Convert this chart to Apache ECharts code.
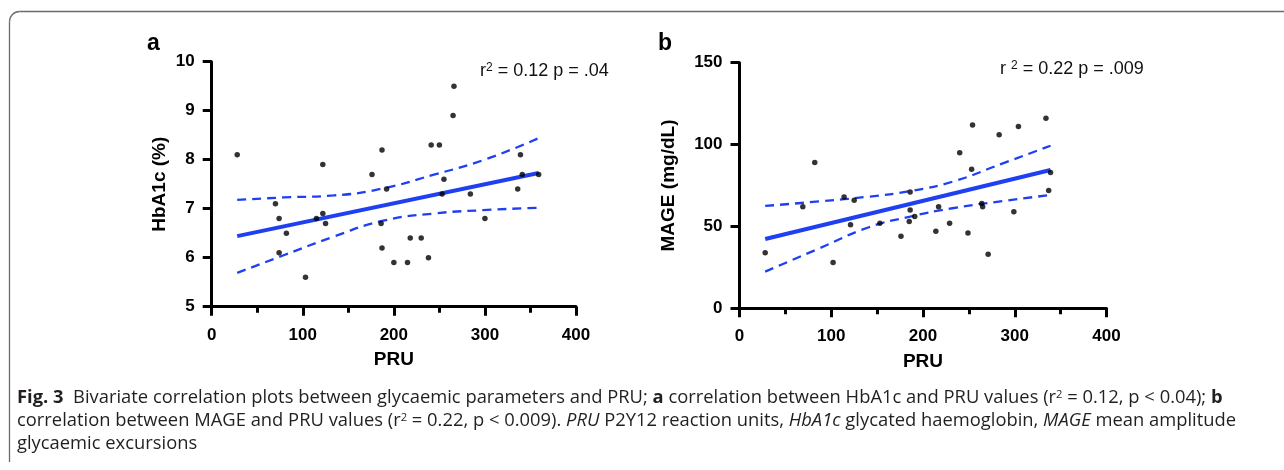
<!DOCTYPE html>
<html>
<head>
<meta charset="utf-8">
<script src="https://cdn.jsdelivr.net/npm/echarts@6/dist/echarts.min.js"></script>
<style>
html,body{margin:0;padding:0;background:#fff;}
#chart{width:1284px;height:470px;}
</style>
</head>
<body>
<div id="chart"></div>
<script>
// ---- Panel a: HbA1c vs PRU ----
const pruA = [28, 70, 74, 74, 82, 103, 115, 122, 122, 125, 176, 187, 186, 187, 192, 200, 215, 218, 230, 238, 241, 250, 255, 253, 265, 266, 284, 300, 336, 339, 341, 359];
const hba1c = [8.1, 7.1, 6.8, 6.1, 6.5, 5.6, 6.8, 6.9, 7.9, 6.7, 7.7, 8.2, 6.7, 6.2, 7.4, 5.9, 5.9, 6.4, 6.4, 6.0, 8.3, 8.3, 7.6, 7.3, 8.9, 9.5, 7.3, 6.8, 7.4, 8.1, 7.7, 7.7];
const fitAx = [28, 359];
const fitAy = [6.44, 7.73];
const ciAx = [28, 79, 134, 187, 243, 298, 359];
const ciAUpper = [7.18, 7.23, 7.27, 7.41, 7.69, 7.99, 8.44];
const ciALower = [5.69, 6.05, 6.43, 6.75, 6.90, 6.97, 7.02];

// ---- Panel b: MAGE vs PRU ----
const pruB = [28, 69, 82, 102, 114, 125, 121, 153, 176, 186, 186, 185, 191, 214, 217, 229, 240, 249, 253, 254, 264, 265, 271, 283, 299, 304, 334, 337, 339];
const mage = [34, 62, 89, 28, 68, 66, 51, 52, 44, 71, 60, 53, 56, 47, 62, 52, 95, 46, 85, 112, 64, 62, 33, 106, 59, 111, 116, 72, 83];
const fitBx = [28, 339];
const fitBy = [42.3, 84.5];
const ciBx = [28, 87, 141, 186, 232, 287, 339];
const ciBUpper = [62.5, 65.3, 68.2, 71.6, 77.3, 88.5, 99.3];
const ciBLower = [22.4, 36.6, 49.5, 56.0, 61.1, 65.5, 69.2];

// ---- Axis ticks / labels ----
const xTicks = [0, 400, 100];      // min, max, interval
const yTicksA = [5, 10, 1];
const yTicksB = [0, 150, 50];
const xName = 'PRU';
const yNameA = 'HbA1c (%)';
const yNameB = 'MAGE (mg/dL)';

const BLUE = '#1f40f2';
const FONT = 'Liberation Sans, Arial, sans-serif';
const CAPFONT = 'Open Sans, Noto Sans, sans-serif';
const CAPSIZE = 18;
const CAPSCALE = 1.02;

function zip(a, b) { return a.map((v, i) => [v, b[i]]); }

function xAxisCfg(gridIndex) {
  return {
    type: 'value', gridIndex, min: xTicks[0], max: xTicks[1], interval: xTicks[2],
    name: xName, nameLocation: 'middle', nameGap: 44,
    nameTextStyle: { fontFamily: FONT, fontWeight: 'bold', fontSize: 19, color: '#000' },
    axisLine: { show: true, onZero: false, lineStyle: { color: '#000', width: 3 } },
    axisTick: { show: true, length: 9, lineStyle: { color: '#000', width: 3 } },
    minorTick: { show: true, splitNumber: 2, length: 6, lineStyle: { color: '#000', width: 3 } },
    axisLabel: { margin: 20, fontFamily: FONT, fontWeight: 'bold', fontSize: 17, color: '#000' },
    splitLine: { show: false }
  };
}
function yAxisCfg(gridIndex, t, name, gap) {
  return {
    type: 'value', gridIndex, min: t[0], max: t[1], interval: t[2],
    name, nameLocation: 'middle', nameGap: gap, nameRotate: 90,
    nameTextStyle: { fontFamily: FONT, fontWeight: 'bold', fontSize: 19, color: '#000' },
    axisLine: { show: true, onZero: false, lineStyle: { color: '#000', width: 3 } },
    axisTick: { show: true, length: 9, lineStyle: { color: '#000', width: 3 } },
    axisLabel: { margin: 17, fontFamily: FONT, fontWeight: 'bold', fontSize: 17, color: '#000' },
    splitLine: { show: false }
  };
}
function scatter(i, xs, ys) {
  return { type: 'scatter', xAxisIndex: i, yAxisIndex: i, data: zip(xs, ys),
    symbol: 'circle', symbolSize: 5.5, itemStyle: { color: '#000' }, z: 5, silent: true };
}
function fitLine(i, xs, ys) {
  return { type: 'line', xAxisIndex: i, yAxisIndex: i, data: zip(xs, ys), showSymbol: false,
    lineStyle: { color: BLUE, width: 4 }, z: 3, silent: true };
}
function ciLine(i, xs, ys) {
  return { type: 'line', xAxisIndex: i, yAxisIndex: i, data: zip(xs, ys), showSymbol: false, smooth: true,
    lineStyle: { color: BLUE, width: 2.3, type: [9, 6] }, z: 3, silent: true };
}

const chart = echarts.init(document.getElementById('chart'), null, { renderer: 'canvas' });
chart.setOption({
  animation: false,
  backgroundColor: '#fff',
  grid: [
    { left: 211.7, top: 61.7, width: 364.3, height: 245 },
    { left: 739.5, top: 62.7, width: 367, height: 245.6 }
  ],
  xAxis: [xAxisCfg(0), xAxisCfg(1)],
  yAxis: [yAxisCfg(0, yTicksA, yNameA, 42), yAxisCfg(1, yTicksB, yNameB, 61)],
  series: [
    ciLine(0, ciAx, ciAUpper), ciLine(0, ciAx, ciALower), fitLine(0, fitAx, fitAy), scatter(0, pruA, hba1c),
    ciLine(1, ciBx, ciBUpper), ciLine(1, ciBx, ciBLower), fitLine(1, fitBx, fitBy), scatter(1, pruB, mage)
  ],
  graphic: [
    { type: 'polyline', shape: { points: [[9.5, 462], [9.5, 21.5]] },
      style: { fill: null, stroke: '#6b6b6b', lineWidth: 1.3 } },
    { type: 'polyline', shape: { points: [[19.5, 11.5], [1290, 11.5]] },
      style: { fill: null, stroke: '#6b6b6b', lineWidth: 1.3 } },
    { type: 'arc', shape: { cx: 19.5, cy: 21.5, r: 10, startAngle: Math.PI, endAngle: Math.PI * 1.5 },
      style: { fill: null, stroke: '#6b6b6b', lineWidth: 1.3 } },
    { type: 'text', x: 147, y: 44, style: { text: 'a', font: 'bold 23px ' + FONT, fill: '#000', verticalAlign: 'middle' } },
    { type: 'text', x: 658, y: 44, style: { text: 'b', font: 'bold 23px ' + FONT, fill: '#000', verticalAlign: 'middle' } },
    { type: 'text', x: 480, y: 71, style: {
        text: 'r{s|2} = 0.12 p = .04', fontFamily: FONT, fontSize: 18, fill: '#111', verticalAlign: 'middle',
        rich: { s: { fontFamily: FONT, fontSize: 12, verticalAlign: 'top', fill: '#111' } } } },
    { type: 'text', x: 1000, y: 69, style: {
        text: 'r {s|2} = 0.22 p = .009', fontFamily: FONT, fontSize: 18, fill: '#111', verticalAlign: 'middle',
        rich: { s: { fontFamily: FONT, fontSize: 12, verticalAlign: 'top', fill: '#111' } } } },
    { type: 'text', x: 17, y: 398, scaleX: CAPSCALE, style: {
        text: '{b|Fig. 3}  Bivariate correlation plots between glycaemic parameters and PRU; {b|a} correlation between HbA1c and PRU values (r{s|2} = 0.12, p < 0.04); {b|b}',
        fontFamily: CAPFONT, fontSize: CAPSIZE, fill: '#231f20', verticalAlign: 'middle',
        rich: {
          b: { fontFamily: CAPFONT, fontSize: CAPSIZE, fontWeight: 'bold', fill: '#231f20' },
          s: { fontFamily: CAPFONT, fontSize: 11, verticalAlign: 'top', fill: '#231f20' }
        } } },
    { type: 'text', x: 17, y: 421, scaleX: CAPSCALE, style: {
        text: 'correlation between MAGE and PRU values (r{s|2} = 0.22, p < 0.009). {i|PRU} P2Y12 reaction units, {i|HbA1c} glycated haemoglobin, {i|MAGE} mean amplitude',
        fontFamily: CAPFONT, fontSize: CAPSIZE, fill: '#231f20', verticalAlign: 'middle',
        rich: {
          i: { fontFamily: CAPFONT, fontSize: CAPSIZE, fontStyle: 'italic', fill: '#231f20' },
          s: { fontFamily: CAPFONT, fontSize: 11, verticalAlign: 'top', fill: '#231f20' }
        } } },
    { type: 'text', x: 17, y: 444, scaleX: CAPSCALE, style: {
        text: 'glycaemic excursions', fontFamily: CAPFONT, fontSize: CAPSIZE, fill: '#231f20', verticalAlign: 'middle' } }
  ]
});
</script>
</body>
</html>
